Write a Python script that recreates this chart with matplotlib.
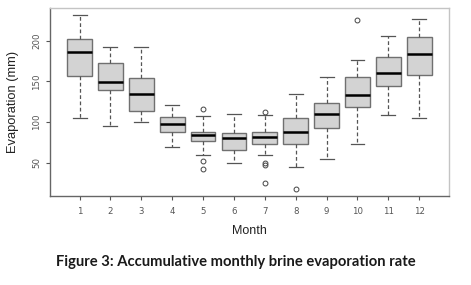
import matplotlib.pyplot as plt

# Boxplot statistics (mm)
months = [1, 2, 3, 4, 5, 6, 7, 8, 9, 10, 11, 12]
whislo = [105, 95, 100, 69, 59, 50, 59, 44, 54, 73, 109, 105]
q1 = [157, 140, 114, 88, 76, 65, 73, 73, 93, 119, 145, 158]
med = [186, 149, 135, 97, 84, 80, 82, 88, 110, 133, 161, 184]
q3 = [203, 173, 154, 106, 88, 87, 88, 105, 124, 155, 180, 205]
whishi = [232, 192, 192, 121, 108, 110, 109, 135, 156, 177, 206, 227]
fliers = [[], [], [], [], [116, 52, 42], [], [112, 50, 47, 25], [17], [], [226], [], []]

stats = []
for i in range(len(months)):
    stats.append(dict(med=med[i], q1=q1[i], q3=q3[i], whislo=whislo[i],
                      whishi=whishi[i], fliers=fliers[i], label=str(months[i])))

fig = plt.figure(figsize=(4.71, 2.85), dpi=100)
ax = fig.add_axes([0.106, 0.312, 0.847, 0.66])

ax.bxp(stats, positions=months, widths=0.8, patch_artist=True,
       boxprops=dict(facecolor='#d3d3d3', edgecolor='#707070', linewidth=1.0),
       medianprops=dict(color='black', linewidth=1.8),
       whiskerprops=dict(color='#555555', linestyle=(0, (3, 2)), linewidth=0.9),
       capprops=dict(color='#555555', linewidth=0.9),
       flierprops=dict(marker='o', markerfacecolor='none', markeredgecolor='#444444',
                       markersize=3.5, markeredgewidth=0.7),
       capwidths=0.45)

ax.set_xlim(0.04, 12.96)
ax.set_ylim(8.6, 240.7)
ax.set_yticks([50, 100, 150, 200])
ax.set_xticks(months)
ax.set_xticklabels([str(m) for m in months])
ax.spines['left'].set_color('#666666')
ax.spines['bottom'].set_color('#666666')
ax.spines['top'].set_color('#c4c4c4')
ax.spines['right'].set_color('#c4c4c4')
for s in ax.spines.values():
    s.set_linewidth(1.0)
ax.tick_params(axis='both', colors='#555555', labelsize=6.2, length=3, width=0.8)
ax.tick_params(axis='y', labelrotation=90)
for lab in ax.get_yticklabels():
    lab.set_va('center')
ax.tick_params(axis='x', pad=5)

ax.set_xlabel('Month', fontsize=9, color='#222222', labelpad=6, family='Liberation Sans')
ax.set_ylabel('Evaporation (mm)', fontsize=9.3, color='#222222', labelpad=9, family='Liberation Sans')

fig.text(0.5, 1 - 262 / 285, 'Figure 3: Accumulative monthly brine evaporation rate',
         ha='center', va='center', fontsize=10.6, fontweight='bold', family='Lato', color='#1a1a1a')

fig.savefig('out.png', dpi=100)
